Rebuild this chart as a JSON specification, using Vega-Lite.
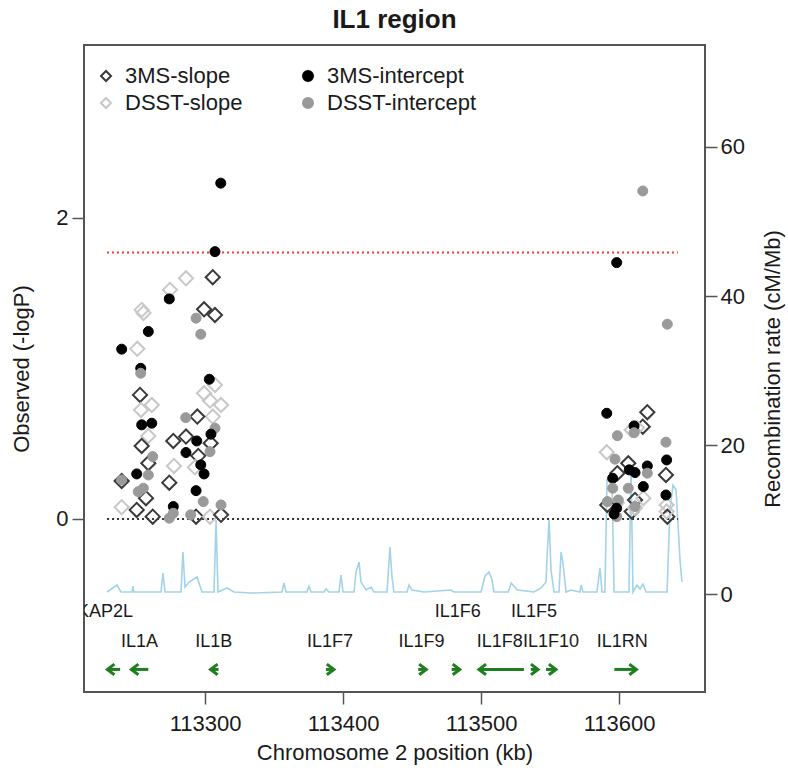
{
  "$schema": "https://vega.github.io/schema/vega-lite/v6.json",
  "width": 621,
  "height": 647,
  "autosize": "none",
  "padding": {"left": 84, "top": 45, "right": 83, "bottom": 84},
  "title": {"text": "IL1 region", "fontSize": 26, "fontWeight": "bold", "offset": 12, "color": "#1a1a1a"},
  "config": {
    "font": "Liberation Sans",
    "view": {"stroke": "#555555", "strokeWidth": 2},
    "axis": {"grid": false, "domain": false, "tickColor": "#555555", "tickWidth": 1.5, "tickSize": 12, "labelFontSize": 22, "titleFontSize": 22, "labelColor": "#1a1a1a", "titleColor": "#1a1a1a", "titleFontWeight": "normal"},
    "legend": {"labelFontSize": 22, "labelColor": "#1a1a1a"}
  },
  "datasets": {
    "recomb": [
      {"position": 113229.0, "rate": 0.27}, {"position": 113236.2, "rate": 1.21}, {"position": 113239.1, "rate": 0.27},
      {"position": 113247.1, "rate": 0.27}, {"position": 113247.8, "rate": 1.07}, {"position": 113248.5, "rate": 0.27},
      {"position": 113268.1, "rate": 0.27}, {"position": 113269.5, "rate": 2.82}, {"position": 113271.0, "rate": 0.27},
      {"position": 113282.6, "rate": 0.27}, {"position": 113284.0, "rate": 5.64}, {"position": 113285.5, "rate": 0.94},
      {"position": 113288.4, "rate": 1.61}, {"position": 113294.2, "rate": 2.28}, {"position": 113297.8, "rate": 0.27},
      {"position": 113306.5, "rate": 0.27}, {"position": 113308.0, "rate": 9.93}, {"position": 113309.4, "rate": 0.27},
      {"position": 113315.9, "rate": 0.81}, {"position": 113321.0, "rate": 0.27}, {"position": 113333.3, "rate": 0.13},
      {"position": 113355.8, "rate": 0.27}, {"position": 113357.2, "rate": 1.48}, {"position": 113358.7, "rate": 0.27},
      {"position": 113373.9, "rate": 0.27}, {"position": 113375.3, "rate": 1.07}, {"position": 113376.8, "rate": 0.27},
      {"position": 113386.2, "rate": 0.27}, {"position": 113387.7, "rate": 0.67}, {"position": 113389.8, "rate": 0.27},
      {"position": 113397.1, "rate": 0.27}, {"position": 113398.5, "rate": 2.55}, {"position": 113400.0, "rate": 0.27},
      {"position": 113408.0, "rate": 0.27}, {"position": 113409.4, "rate": 2.95}, {"position": 113411.6, "rate": 4.30},
      {"position": 113413.0, "rate": 1.61}, {"position": 113416.7, "rate": 0.54}, {"position": 113420.3, "rate": 0.94},
      {"position": 113422.4, "rate": 0.27}, {"position": 113431.9, "rate": 0.27}, {"position": 113434.0, "rate": 6.31},
      {"position": 113435.5, "rate": 2.28}, {"position": 113436.9, "rate": 0.27}, {"position": 113446.4, "rate": 0.27},
      {"position": 113447.8, "rate": 1.21}, {"position": 113450.0, "rate": 0.54}, {"position": 113458.7, "rate": 0.27},
      {"position": 113478.2, "rate": 0.54}, {"position": 113480.4, "rate": 0.27}, {"position": 113500.0, "rate": 0.27},
      {"position": 113502.9, "rate": 2.42}, {"position": 113505.8, "rate": 2.95}, {"position": 113508.0, "rate": 1.88},
      {"position": 113509.4, "rate": 0.27}, {"position": 113519.7, "rate": 0.27}, {"position": 113521.9, "rate": 1.48},
      {"position": 113526.2, "rate": 0.54}, {"position": 113538.4, "rate": 0.27}, {"position": 113543.5, "rate": 0.81},
      {"position": 113547.1, "rate": 1.61}, {"position": 113547.8, "rate": 4.83}, {"position": 113549.3, "rate": 9.93},
      {"position": 113550.7, "rate": 3.22}, {"position": 113552.9, "rate": 0.27}, {"position": 113556.5, "rate": 0.27},
      {"position": 113558.0, "rate": 5.64}, {"position": 113559.4, "rate": 4.16}, {"position": 113561.6, "rate": 0.27},
      {"position": 113565.2, "rate": 0.54}, {"position": 113571.7, "rate": 0.27}, {"position": 113572.5, "rate": 1.21},
      {"position": 113573.9, "rate": 0.27}, {"position": 113584.0, "rate": 0.27}, {"position": 113586.2, "rate": 3.49},
      {"position": 113587.7, "rate": 0.27}, {"position": 113589.8, "rate": 0.27}, {"position": 113591.3, "rate": 15.3},
      {"position": 113594.9, "rate": 15.3}, {"position": 113596.4, "rate": 0.27}, {"position": 113607.2, "rate": 0.27},
      {"position": 113608.7, "rate": 16.6}, {"position": 113610.1, "rate": 0.27}, {"position": 113613.0, "rate": 1.21},
      {"position": 113615.2, "rate": 0.67}, {"position": 113617.4, "rate": 1.34}, {"position": 113619.5, "rate": 0.27},
      {"position": 113634.8, "rate": 0.27}, {"position": 113636.9, "rate": 11.3}, {"position": 113639.1, "rate": 14.6},
      {"position": 113641.3, "rate": 14.0}, {"position": 113644.2, "rate": 4.56}, {"position": 113645.6, "rate": 1.61}
    ],
    "thresholds": [
      {"kind": "null", "level": 0, "start": 113229.0, "end": 113642.7},
      {"kind": "significance", "level": 1.771, "start": 113229.0, "end": 113642.7}
    ],
    "genes": [
      {"gene": "CKAP2L", "start": 113229.2, "end": 113238.5, "strand": "-", "lane": "upper", "label_at": 113222.8},
      {"gene": "IL1A", "start": 113246.6, "end": 113258.9, "strand": "-", "lane": "lower", "label_at": 113252.5},
      {"gene": "IL1B", "start": 113304.0, "end": 113309.8, "strand": "-", "lane": "lower", "label_at": 113306.4},
      {"gene": "IL1F7", "start": 113387.6, "end": 113393.4, "strand": "+", "lane": "lower", "label_at": 113390.6},
      {"gene": "IL1F9", "start": 113454.5, "end": 113460.3, "strand": "+", "lane": "lower", "label_at": 113456.9},
      {"gene": "IL1F6", "start": 113478.7, "end": 113484.6, "strand": "+", "lane": "upper", "label_at": 113483.1},
      {"gene": "IL1F8", "start": 113498.5, "end": 113531.1, "strand": "-", "lane": "lower", "label_at": 113513.6},
      {"gene": "IL1F5", "start": 113536.1, "end": 113541.3, "strand": "+", "lane": "upper", "label_at": 113538.4},
      {"gene": "IL1F10", "start": 113547.1, "end": 113554.3, "strand": "+", "lane": "lower", "label_at": 113550.7},
      {"gene": "IL1RN", "start": 113596.6, "end": 113612.6, "strand": "+", "lane": "lower", "label_at": 113602.4}
    ],
    "snps": [
      {"series": "3MS-intercept", "position": 113311.4, "logp": 2.231},
      {"series": "3MS-intercept", "position": 113307.2, "logp": 1.776},
      {"series": "3MS-slope", "position": 113305.6, "logp": 1.606},
      {"series": "DSST-slope", "position": 113286.2, "logp": 1.599},
      {"series": "DSST-slope", "position": 113274.6, "logp": 1.522},
      {"series": "3MS-intercept", "position": 113274.1, "logp": 1.462},
      {"series": "DSST-slope", "position": 113254.1, "logp": 1.389},
      {"series": "DSST-slope", "position": 113255.4, "logp": 1.369},
      {"series": "3MS-slope", "position": 113299.3, "logp": 1.393},
      {"series": "3MS-slope", "position": 113307.2, "logp": 1.355},
      {"series": "DSST-intercept", "position": 113293.5, "logp": 1.334},
      {"series": "3MS-intercept", "position": 113258.9, "logp": 1.245},
      {"series": "DSST-intercept", "position": 113296.9, "logp": 1.227},
      {"series": "3MS-intercept", "position": 113239.6, "logp": 1.128},
      {"series": "DSST-slope", "position": 113250.9, "logp": 1.130},
      {"series": "3MS-intercept", "position": 113253.4, "logp": 1.001},
      {"series": "DSST-intercept", "position": 113253.4, "logp": 0.968},
      {"series": "3MS-intercept", "position": 113303.1, "logp": 0.928},
      {"series": "DSST-slope", "position": 113307.2, "logp": 0.890},
      {"series": "3MS-slope", "position": 113252.9, "logp": 0.824},
      {"series": "DSST-slope", "position": 113299.3, "logp": 0.835},
      {"series": "DSST-slope", "position": 113303.6, "logp": 0.786},
      {"series": "DSST-slope", "position": 113311.6, "logp": 0.757},
      {"series": "DSST-slope", "position": 113253.6, "logp": 0.724},
      {"series": "DSST-slope", "position": 113261.4, "logp": 0.757},
      {"series": "DSST-slope", "position": 113305.6, "logp": 0.680},
      {"series": "DSST-intercept", "position": 113286.0, "logp": 0.673},
      {"series": "3MS-slope", "position": 113294.4, "logp": 0.680},
      {"series": "3MS-intercept", "position": 113254.1, "logp": 0.625},
      {"series": "3MS-intercept", "position": 113261.4, "logp": 0.636},
      {"series": "DSST-intercept", "position": 113307.2, "logp": 0.603},
      {"series": "DSST-slope", "position": 113258.9, "logp": 0.551},
      {"series": "3MS-intercept", "position": 113304.3, "logp": 0.563},
      {"series": "3MS-slope", "position": 113277.0, "logp": 0.518},
      {"series": "3MS-slope", "position": 113286.2, "logp": 0.547},
      {"series": "3MS-intercept", "position": 113294.0, "logp": 0.518},
      {"series": "3MS-slope", "position": 113304.1, "logp": 0.503},
      {"series": "3MS-slope", "position": 113254.1, "logp": 0.485},
      {"series": "3MS-intercept", "position": 113286.2, "logp": 0.441},
      {"series": "DSST-intercept", "position": 113303.6, "logp": 0.447},
      {"series": "3MS-slope", "position": 113295.1, "logp": 0.419},
      {"series": "DSST-intercept", "position": 113262.1, "logp": 0.414},
      {"series": "3MS-slope", "position": 113258.9, "logp": 0.370},
      {"series": "DSST-slope", "position": 113277.5, "logp": 0.352},
      {"series": "3MS-intercept", "position": 113296.9, "logp": 0.359},
      {"series": "3MS-intercept", "position": 113299.3, "logp": 0.299},
      {"series": "DSST-slope", "position": 113292.7, "logp": 0.343},
      {"series": "DSST-intercept", "position": 113258.9, "logp": 0.292},
      {"series": "3MS-intercept", "position": 113250.5, "logp": 0.299},
      {"series": "DSST-intercept", "position": 113239.6, "logp": 0.259},
      {"series": "3MS-slope", "position": 113239.6, "logp": 0.252},
      {"series": "3MS-slope", "position": 113274.1, "logp": 0.241},
      {"series": "DSST-intercept", "position": 113251.6, "logp": 0.181},
      {"series": "DSST-intercept", "position": 113255.3, "logp": 0.204},
      {"series": "3MS-intercept", "position": 113293.5, "logp": 0.188},
      {"series": "3MS-slope", "position": 113257.2, "logp": 0.138},
      {"series": "DSST-intercept", "position": 113298.7, "logp": 0.115},
      {"series": "DSST-slope", "position": 113239.6, "logp": 0.078},
      {"series": "3MS-slope", "position": 113250.5, "logp": 0.060},
      {"series": "3MS-intercept", "position": 113277.0, "logp": 0.082},
      {"series": "DSST-intercept", "position": 113277.0, "logp": 0.038},
      {"series": "DSST-intercept", "position": 113274.1, "logp": 0.005},
      {"series": "3MS-slope", "position": 113262.1, "logp": 0.015},
      {"series": "3MS-slope", "position": 113293.5, "logp": 0.015},
      {"series": "DSST-slope", "position": 113303.6, "logp": 0.015},
      {"series": "3MS-slope", "position": 113311.6, "logp": 0.027},
      {"series": "DSST-intercept", "position": 113311.6, "logp": 0.093},
      {"series": "DSST-intercept", "position": 113289.6, "logp": 0.027},
      {"series": "DSST-intercept", "position": 113617.2, "logp": 2.179},
      {"series": "3MS-intercept", "position": 113598.3, "logp": 1.703},
      {"series": "DSST-intercept", "position": 113635.0, "logp": 1.294},
      {"series": "3MS-intercept", "position": 113591.1, "logp": 0.702},
      {"series": "3MS-slope", "position": 113620.5, "logp": 0.709},
      {"series": "3MS-slope", "position": 113617.2, "logp": 0.613},
      {"series": "DSST-slope", "position": 113609.2, "logp": 0.591},
      {"series": "DSST-slope", "position": 113613.0, "logp": 0.605},
      {"series": "3MS-intercept", "position": 113610.9, "logp": 0.618},
      {"series": "DSST-intercept", "position": 113610.9, "logp": 0.573},
      {"series": "DSST-intercept", "position": 113598.8, "logp": 0.553},
      {"series": "DSST-intercept", "position": 113634.0, "logp": 0.510},
      {"series": "DSST-slope", "position": 113591.1, "logp": 0.443},
      {"series": "DSST-intercept", "position": 113597.1, "logp": 0.397},
      {"series": "3MS-intercept", "position": 113634.5, "logp": 0.392},
      {"series": "3MS-slope", "position": 113606.7, "logp": 0.370},
      {"series": "3MS-intercept", "position": 113607.4, "logp": 0.326},
      {"series": "3MS-intercept", "position": 113611.6, "logp": 0.308},
      {"series": "3MS-intercept", "position": 113620.5, "logp": 0.352},
      {"series": "DSST-intercept", "position": 113620.5, "logp": 0.304},
      {"series": "3MS-slope", "position": 113598.8, "logp": 0.304},
      {"series": "3MS-intercept", "position": 113595.4, "logp": 0.270},
      {"series": "3MS-slope", "position": 113634.0, "logp": 0.292},
      {"series": "DSST-intercept", "position": 113595.4, "logp": 0.204},
      {"series": "DSST-intercept", "position": 113606.7, "logp": 0.204},
      {"series": "3MS-intercept", "position": 113617.6, "logp": 0.215},
      {"series": "3MS-intercept", "position": 113634.0, "logp": 0.159},
      {"series": "DSST-intercept", "position": 113591.5, "logp": 0.115},
      {"series": "3MS-slope", "position": 113591.5, "logp": 0.093},
      {"series": "DSST-intercept", "position": 113599.5, "logp": 0.126},
      {"series": "3MS-slope", "position": 113611.6, "logp": 0.126},
      {"series": "DSST-slope", "position": 113617.6, "logp": 0.138},
      {"series": "3MS-intercept", "position": 113598.3, "logp": 0.071},
      {"series": "DSST-intercept", "position": 113611.6, "logp": 0.082},
      {"series": "DSST-slope", "position": 113634.5, "logp": 0.093},
      {"series": "3MS-slope", "position": 113609.2, "logp": 0.049},
      {"series": "3MS-slope", "position": 113635.0, "logp": 0.015},
      {"series": "DSST-intercept", "position": 113598.3, "logp": 0.015},
      {"series": "DSST-slope", "position": 113634.5, "logp": 0.049},
      {"series": "3MS-intercept", "position": 113596.4, "logp": 0.033},
      {"series": "DSST-slope", "position": 113598.3, "logp": 0.106},
      {"series": "DSST-slope", "position": 113611.6, "logp": 0.073}
    ]
  },
  "layer": [
    {
      "data": {"name": "recomb"},
      "mark": {"type": "line", "color": "#a3d3e8", "strokeWidth": 1.6, "clip": true},
      "encoding": {
        "x": {"field": "position", "type": "quantitative", "scale": {"domain": [113212.3, 113662.3], "nice": false, "zero": false},
              "axis": {"values": [113300, 113400, 113500, 113600], "format": "d", "title": "Chromosome 2 position (kb)", "titleX": 310.5, "titleY": 60, "titleBaseline": "middle", "labelPadding": 9}},
        "y": {"field": "rate", "type": "quantitative", "scale": {"domain": [-13.15, 73.69], "nice": false, "zero": false},
              "axis": {"orient": "right", "values": [0, 20, 40, 60], "title": "Recombination rate (cM/Mb)", "titleX": 67, "titleY": 323.5, "titleAngle": 270, "titleBaseline": "middle", "labelPadding": 3}}
      }
    },
    {
      "layer": [
        {
          "data": {"name": "thresholds"},
          "transform": [{"filter": "datum.kind === 'null'"}],
          "mark": {"type": "rule", "color": "#333333", "strokeWidth": 2, "strokeDash": [2, 3]},
          "encoding": {
            "x": {"field": "start", "type": "quantitative", "scale": {"domain": [113212.3, 113662.3], "nice": false, "zero": false},
                  "axis": {"values": [113300, 113400, 113500, 113600], "format": "d", "title": "Chromosome 2 position (kb)", "titleX": 310.5, "titleY": 60, "titleBaseline": "middle", "labelPadding": 9}},
            "x2": {"field": "end"},
            "y": {"field": "level", "type": "quantitative", "scale": {"domain": [-1.150, 3.149], "nice": false, "zero": false},
                  "axis": {"orient": "left", "values": [0, 2], "format": "d", "title": "Observed (-logP)", "titleX": -63, "titleY": 323.5, "titleAngle": 270, "titleBaseline": "middle", "labelPadding": 4}}
          }
        },
        {
          "data": {"name": "thresholds"},
          "transform": [{"filter": "datum.kind === 'significance'"}],
          "mark": {"type": "rule", "color": "#ff3333", "strokeWidth": 2, "strokeDash": [2, 3]},
          "encoding": {
            "x": {"field": "start", "type": "quantitative", "title": "Chromosome 2 position (kb)"},
            "x2": {"field": "end"},
            "y": {"field": "level", "type": "quantitative", "title": "Observed (-logP)"}
          }
        },
        {
          "data": {"name": "snps"},
          "transform": [{"filter": {"field": "series", "oneOf": ["3MS-slope", "DSST-slope"]}}],
          "mark": {"type": "point", "size": 200, "strokeWidth": 2, "opacity": 1},
          "encoding": {
            "x": {"field": "position", "type": "quantitative", "title": "Chromosome 2 position (kb)"},
            "y": {"field": "logp", "type": "quantitative", "title": "Observed (-logP)"},
            "shape": {"field": "series", "type": "nominal",
                      "scale": {"domain": ["3MS-slope", "DSST-slope", "3MS-intercept", "DSST-intercept"], "range": ["diamond", "diamond", "circle", "circle"]},
                      "legend": {"title": null, "orient": "none", "legendX": 11, "legendY": 20, "columns": 2, "columnPadding": 54, "rowPadding": 5, "symbolSize": 100, "symbolStrokeWidth": 2, "labelOffset": 8, "padding": 0, "labelLimit": 300}},
            "stroke": {"field": "series", "type": "nominal",
                       "scale": {"domain": ["3MS-slope", "DSST-slope", "3MS-intercept", "DSST-intercept"], "range": ["#3a3a3a", "#c8c8c8", "#000000", "#9a9a9a"]},
                       "legend": {"title": null, "orient": "none", "legendX": 11, "legendY": 20, "columns": 2, "columnPadding": 54, "rowPadding": 5, "symbolSize": 100, "symbolStrokeWidth": 2, "labelOffset": 8, "padding": 0, "labelLimit": 300}},
            "fill": {"field": "series", "type": "nominal",
                     "scale": {"domain": ["3MS-slope", "DSST-slope", "3MS-intercept", "DSST-intercept"], "range": ["transparent", "transparent", "#000000", "#9a9a9a"]},
                     "legend": {"title": null, "orient": "none", "legendX": 11, "legendY": 20, "columns": 2, "columnPadding": 54, "rowPadding": 5, "symbolSize": 100, "symbolStrokeWidth": 2, "labelOffset": 8, "padding": 0, "labelLimit": 300}}
          }
        },
        {
          "data": {"name": "snps"},
          "transform": [{"filter": {"field": "series", "oneOf": ["3MS-intercept", "DSST-intercept"]}}],
          "mark": {"type": "point", "size": 100, "strokeWidth": 1, "opacity": 1},
          "encoding": {
            "x": {"field": "position", "type": "quantitative", "title": "Chromosome 2 position (kb)"},
            "y": {"field": "logp", "type": "quantitative", "title": "Observed (-logP)"},
            "shape": {"field": "series", "type": "nominal"},
            "stroke": {"field": "series", "type": "nominal"},
            "fill": {"field": "series", "type": "nominal"}
          }
        },
        {
          "data": {"name": "genes"},
          "mark": {"type": "rule", "color": "#1f7f1f", "strokeWidth": 3},
          "encoding": {
            "x": {"field": "start", "type": "quantitative", "title": "Chromosome 2 position (kb)"},
            "x2": {"field": "end"},
            "y": {"datum": -1}
          }
        },
        {
          "data": {"name": "genes"},
          "transform": [{"filter": "datum.strand === '+'"}],
          "mark": {"type": "point", "shape": "M-1,-0.75L0,0L-1,0.75", "filled": false, "stroke": "#1f7f1f", "strokeWidth": 3, "size": 200, "opacity": 1},
          "encoding": {
            "x": {"field": "end", "type": "quantitative", "title": "Chromosome 2 position (kb)"},
            "y": {"datum": -1}
          }
        },
        {
          "data": {"name": "genes"},
          "transform": [{"filter": "datum.strand === '-'"}],
          "mark": {"type": "point", "shape": "M1,-0.75L0,0L1,0.75", "filled": false, "stroke": "#1f7f1f", "strokeWidth": 3, "size": 200, "opacity": 1},
          "encoding": {
            "x": {"field": "start", "type": "quantitative", "title": "Chromosome 2 position (kb)"},
            "y": {"datum": -1}
          }
        },
        {
          "data": {"name": "genes"},
          "transform": [{"filter": "datum.lane === 'upper'"}],
          "mark": {"type": "text", "fontSize": 18, "align": "center", "baseline": "middle", "color": "#1a1a1a", "clip": true},
          "encoding": {
            "x": {"field": "label_at", "type": "quantitative", "title": "Chromosome 2 position (kb)"},
            "y": {"datum": -0.62},
            "text": {"field": "gene"}
          }
        },
        {
          "data": {"name": "genes"},
          "transform": [{"filter": "datum.lane === 'lower'"}],
          "mark": {"type": "text", "fontSize": 18, "align": "center", "baseline": "middle", "color": "#1a1a1a", "clip": true},
          "encoding": {
            "x": {"field": "label_at", "type": "quantitative", "title": "Chromosome 2 position (kb)"},
            "y": {"datum": -0.815},
            "text": {"field": "gene"}
          }
        }
      ]
    }
  ],
  "resolve": {"scale": {"y": "independent"}}
}
